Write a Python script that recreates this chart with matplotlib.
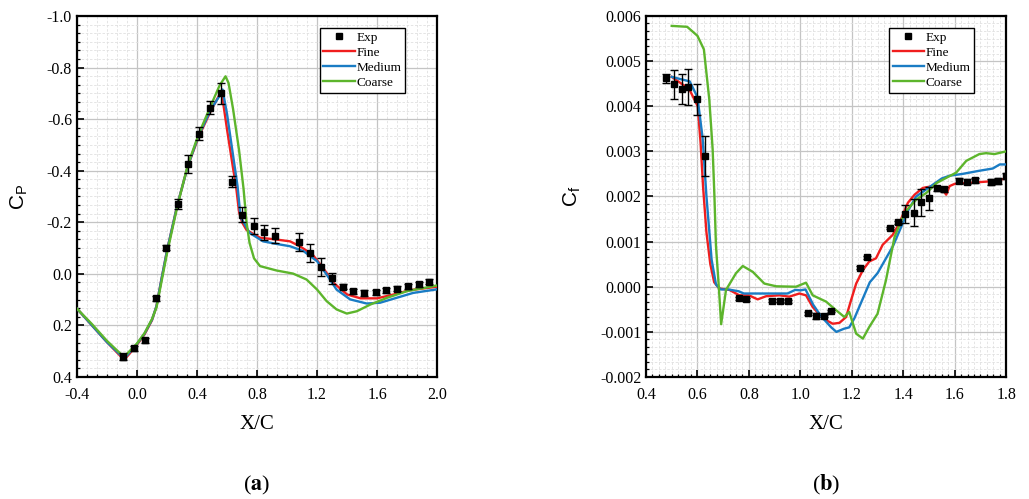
import numpy as np
import matplotlib
matplotlib.use("Agg")
import matplotlib.pyplot as plt
from matplotlib.lines import Line2D
from matplotlib.ticker import MultipleLocator, FormatStrFormatter

plt.rcParams['font.family'] = ['Liberation Serif', 'DejaVu Serif']
plt.rcParams['axes.unicode_minus'] = False
plt.rcParams['mathtext.fontset'] = 'stix'

# ---- (a) pressure coefficient ----
cp_exp_x = [-0.092, -0.02, 0.053, 0.127, 0.196, 0.27, 0.341, 0.415, 0.487, 0.558, 0.632,
            0.70, 0.777, 0.848, 0.922, 1.078, 1.152, 1.223, 1.297, 1.371, 1.442, 1.516,
            1.59, 1.661, 1.733, 1.804, 1.878, 1.949]
cp_exp_y = [0.321, 0.289, 0.257, 0.095, -0.102, -0.27, -0.426, -0.544, -0.644, -0.70, -0.358,
            -0.23, -0.185, -0.161, -0.148, -0.123, -0.079, -0.027, 0.018, 0.050, 0.067, 0.074,
            0.072, 0.063, 0.058, 0.048, 0.041, 0.031]
cp_exp_err = [0.015, 0.01, 0.01, 0.01, 0.01, 0.02, 0.035, 0.025, 0.025, 0.04, 0.02,
              0.03, 0.03, 0.03, 0.03, 0.035, 0.035, 0.035, 0.02, 0.01, 0.01, 0.01,
              0.01, 0.01, 0.01, 0.01, 0.01, 0.01]

cp_fine_x = [-0.4, -0.3, -0.2, -0.1, -0.08, -0.05, 0.0, 0.05, 0.1, 0.13, 0.16, 0.2, 0.27,
             0.34, 0.41, 0.49, 0.55, 0.565, 0.6, 0.64, 0.66, 0.68, 0.70, 0.73, 0.82, 0.93,
             1.02, 1.085, 1.17, 1.24, 1.31, 1.4, 1.49, 1.6, 1.71, 1.82, 2.0]
cp_fine_y = [0.135, 0.2, 0.265, 0.325, 0.33, 0.31, 0.275, 0.235, 0.18, 0.125, 0.03, -0.09, -0.27,
             -0.42, -0.53, -0.63, -0.695, -0.70, -0.56, -0.41, -0.34, -0.24, -0.20, -0.17, -0.14, -0.133,
             -0.126, -0.107, -0.075, -0.023, 0.035, 0.08, 0.095, 0.095, 0.08, 0.063, 0.05]

cp_medium_x = [-0.4, -0.3, -0.2, -0.1, -0.08, -0.05, 0.0, 0.05, 0.1, 0.13, 0.16, 0.2, 0.27,
               0.34, 0.41, 0.49, 0.55, 0.57, 0.6, 0.64, 0.67, 0.69, 0.75, 0.84, 0.93, 1.02,
               1.11, 1.2, 1.264, 1.33, 1.42, 1.53, 1.62, 1.73, 1.84, 2.0]
cp_medium_y = [0.135, 0.2, 0.265, 0.32, 0.325, 0.305, 0.272, 0.232, 0.178, 0.125, 0.03, -0.09, -0.27,
               -0.42, -0.535, -0.635, -0.69, -0.715, -0.62, -0.46, -0.34, -0.22, -0.159, -0.126, -0.116, -0.107,
               -0.088, -0.049, 0.003, 0.061, 0.099, 0.115, 0.112, 0.093, 0.074, 0.06]

cp_coarse_x = [-0.4, -0.3, -0.2, -0.1, -0.08, -0.05, 0.0, 0.05, 0.1, 0.13, 0.16, 0.2, 0.27,
               0.34, 0.41, 0.49, 0.55, 0.59, 0.61, 0.64, 0.68, 0.71, 0.73, 0.75, 0.78, 0.82,
               0.93, 1.04, 1.13, 1.2, 1.264, 1.33, 1.398, 1.465, 1.555, 1.666, 1.8, 2.0]
cp_coarse_y = [0.135, 0.195, 0.26, 0.315, 0.318, 0.3, 0.27, 0.23, 0.175, 0.13, 0.04, -0.08, -0.265,
               -0.425, -0.54, -0.65, -0.73, -0.766, -0.74, -0.64, -0.48, -0.33, -0.2, -0.12, -0.06, -0.03,
               -0.013, -0.001, 0.022, 0.061, 0.106, 0.138, 0.154, 0.145, 0.119, 0.093, 0.067, 0.045]

# ---- (b) skin friction coefficient ----
cf_exp_x = [0.478, 0.508, 0.539, 0.563, 0.597, 0.628, 0.760, 0.789, 0.89, 0.919, 0.951, 1.03,
            1.06, 1.09, 1.12, 1.23, 1.258, 1.35, 1.379, 1.408, 1.44, 1.47, 1.5, 1.53, 1.56,
            1.618, 1.648, 1.68, 1.74, 1.77, 1.8]
cf_exp_y = [0.00462, 0.00449, 0.00439, 0.00442, 0.00415, 0.0029, -0.00026, -0.00028, -0.00031,
            -0.00031, -0.00032, -0.00059, -0.00065, -0.00065, -0.00054, 0.00042, 0.00065, 0.0013,
            0.00143, 0.00162, 0.00164, 0.00187, 0.00196, 0.00218, 0.00216, 0.00235, 0.00233,
            0.00236, 0.00232, 0.00234, 0.00245]
cf_exp_err = [0.0001, 0.00032, 0.00033, 0.0004, 0.00035, 0.00044, 0.00003, 0.00003, 0.00003,
              0.00003, 0.00003, 0.00003, 0.00006, 0.00003, 0.00003, 0.00003, 0.00003, 0.00003,
              0.00003, 0.0002, 0.0003, 0.0003, 0.00025, 0.00006, 0.00006, 0.00006, 0.00006,
              0.00006, 0.00006, 0.00006, 0.00006]

cf_fine_x = [0.5, 0.568, 0.601, 0.612, 0.622, 0.635, 0.65, 0.665, 0.685, 0.724, 0.763, 0.80,
             0.834, 0.867, 0.919, 0.957, 0.996, 1.022, 1.048, 1.087, 1.126, 1.152, 1.178, 1.197,
             1.217, 1.243, 1.268, 1.294, 1.32, 1.359, 1.385, 1.418, 1.444, 1.476, 1.515, 1.547,
             1.567, 1.58, 1.6, 1.65, 1.7, 1.75, 1.8]
cf_fine_y = [0.00465, 0.00438, 0.0040, 0.0032, 0.0022, 0.0012, 0.0005, 0.0001, -0.00004,
             -0.00007, -0.00019, -0.00019, -0.00028, -0.00021, -0.00019, -0.00022, -0.00015,
             -0.00019, -0.00045, -0.0007, -0.00082, -0.0008, -0.00067, -0.0003, 0.00007, 0.00037,
             0.00056, 0.00063, 0.00093, 0.00115, 0.00141, 0.00186, 0.00204, 0.00219, 0.00223,
             0.00219, 0.00204, 0.00223, 0.00228, 0.0023, 0.00232, 0.00234, 0.0024]

cf_medium_x = [0.5, 0.57, 0.6, 0.62, 0.635, 0.655, 0.672, 0.69, 0.72, 0.76, 0.78, 0.85, 0.95,
               0.98, 1.0, 1.02, 1.05, 1.08, 1.12, 1.14, 1.17, 1.19, 1.21, 1.24, 1.27, 1.3, 1.33,
               1.36, 1.39, 1.42, 1.45, 1.5, 1.55, 1.58, 1.63, 1.696, 1.748, 1.775, 1.8]
cf_medium_y = [0.00465, 0.00455, 0.0042, 0.0033, 0.0020, 0.0006, 0.00005, -0.00006, -0.00006,
               -0.0001, -0.00015, -0.00015, -0.00015, -0.00007, -0.00008, -0.00006, -0.0004,
               -0.00065, -0.0009, -0.001, -0.00093, -0.0009, -0.0007, -0.0003, 0.0001, 0.0003,
               0.0006, 0.0009, 0.0013, 0.0017, 0.002, 0.0022, 0.0024, 0.00246, 0.0025, 0.00257,
               0.00262, 0.00271, 0.00271]

cf_coarse_x = [0.5, 0.56, 0.6, 0.625, 0.646, 0.659, 0.666, 0.672, 0.683, 0.692, 0.711, 0.75,
               0.776, 0.815, 0.86, 0.906, 0.983, 1.022, 1.048, 1.1, 1.139, 1.171, 1.19, 1.217,
               1.243, 1.268, 1.3, 1.333, 1.366, 1.405, 1.45, 1.49, 1.53, 1.606, 1.645, 1.696,
               1.722, 1.755, 1.8]
cf_coarse_y = [0.00578, 0.00576, 0.00556, 0.00526, 0.00415, 0.00305, 0.0020, 0.0009, 0.0, -0.00083,
               -0.00007, 0.0003, 0.00046, 0.00033, 0.00007, 0.00001, 0.0, 0.00009, -0.00019,
               -0.00033, -0.00052, -0.00067, -0.00056, -0.00104, -0.00115, -0.00089, -0.0006,
               0.00015, 0.0011, 0.00164, 0.00193, 0.00208, 0.0023, 0.00253, 0.00279, 0.00294,
               0.00296, 0.00294, 0.003]

RED = '#f01e1e'
BLUE = '#1a7cc4'
GREEN = '#5db52c'

fig = plt.figure(figsize=(10.29, 4.99), dpi=100)
ax1 = fig.add_axes([0.0748, 0.2445, 0.35, 0.7235])
ax2 = fig.add_axes([0.6278, 0.2445, 0.35, 0.7235])


def style(ax, major_x, minor_x, major_y, minor_y):
    ax.xaxis.set_major_locator(MultipleLocator(major_x))
    ax.xaxis.set_minor_locator(MultipleLocator(minor_x))
    ax.yaxis.set_major_locator(MultipleLocator(major_y))
    ax.yaxis.set_minor_locator(MultipleLocator(minor_y))
    ax.grid(which='major', color='#c4c4c4', linewidth=0.9)
    ax.grid(which='minor', color='#e0e0e0', linewidth=0.6, linestyle=(0, (3, 2)))
    ax.set_axisbelow(True)
    ax.tick_params(which='both', direction='in', labelsize=11.5, top=False, right=False)
    ax.tick_params(which='major', length=5, width=1.2)
    ax.tick_params(which='minor', length=2.5, width=0.9)
    ax.tick_params(axis='x', which='major', pad=7)
    for s in ax.spines.values():
        s.set_linewidth(1.6)
        s.set_color('black')


def draw(ax, ex, ey, ee, lines):
    ax.errorbar(ex, ey, yerr=ee, fmt='s', color='black', ms=4, capsize=3,
                elinewidth=1, capthick=1, zorder=5)
    handles = [Line2D([], [], ls='none', marker='s', ms=4, color='black')]
    labels = ['Exp']
    for x, y, c, name in lines:
        ln, = ax.plot(x, y, color=c, lw=1.7, zorder=3)
        handles.append(ln)
        labels.append(name)
    leg = ax.legend(handles, labels, loc='upper right',
                    bbox_to_anchor=(0.912, 0.967), borderaxespad=0, fancybox=False,
                    framealpha=1, edgecolor='black', fontsize=9.5, handlelength=2.4,
                    handletextpad=0.1, borderpad=0.3, labelspacing=0.2)
    leg.get_frame().set_linewidth(1.0)


# (a)
draw(ax1, cp_exp_x, cp_exp_y, cp_exp_err,
     [(cp_fine_x, cp_fine_y, RED, 'Fine'),
      (cp_medium_x, cp_medium_y, BLUE, 'Medium'),
      (cp_coarse_x, cp_coarse_y, GREEN, 'Coarse')])
style(ax1, 0.4, 0.4 / 6, 0.2, 0.2 / 6)
ax1.set_xlim(-0.4, 2.0)
ax1.set_ylim(0.4, -1.0)
ax1.xaxis.set_major_formatter(FormatStrFormatter('%.1f'))
ax1.yaxis.set_major_formatter(FormatStrFormatter('%.1f'))
ax1.set_xlabel('X/C', fontsize=15, labelpad=9)
ax1.set_ylabel(r'$\mathregular{C_P}$', fontsize=15, family='Liberation Sans', labelpad=12)

# (b)
draw(ax2, cf_exp_x, cf_exp_y, cf_exp_err,
     [(cf_fine_x, cf_fine_y, RED, 'Fine'),
      (cf_medium_x, cf_medium_y, BLUE, 'Medium'),
      (cf_coarse_x, cf_coarse_y, GREEN, 'Coarse')])
style(ax2, 0.2, 0.025, 0.001, 0.001 / 6)
ax2.set_xlim(0.4, 1.8)
ax2.set_ylim(-0.002, 0.006)
ax2.xaxis.set_major_formatter(FormatStrFormatter('%.1f'))
ax2.yaxis.set_major_formatter(FormatStrFormatter('%.3f'))
ax2.set_xlabel('X/C', fontsize=15, labelpad=9)
ax2.set_ylabel(r'$\mathregular{C_f}$', fontsize=15, family='Liberation Sans', labelpad=12)

fig.text(0.2497, 0.028, r'($\mathbf{a}$)', ha='center', va='center', fontsize=16)
fig.text(0.8027, 0.028, r'($\mathbf{b}$)', ha='center', va='center', fontsize=16)

fig.savefig('out.png', dpi=100, facecolor='white')
